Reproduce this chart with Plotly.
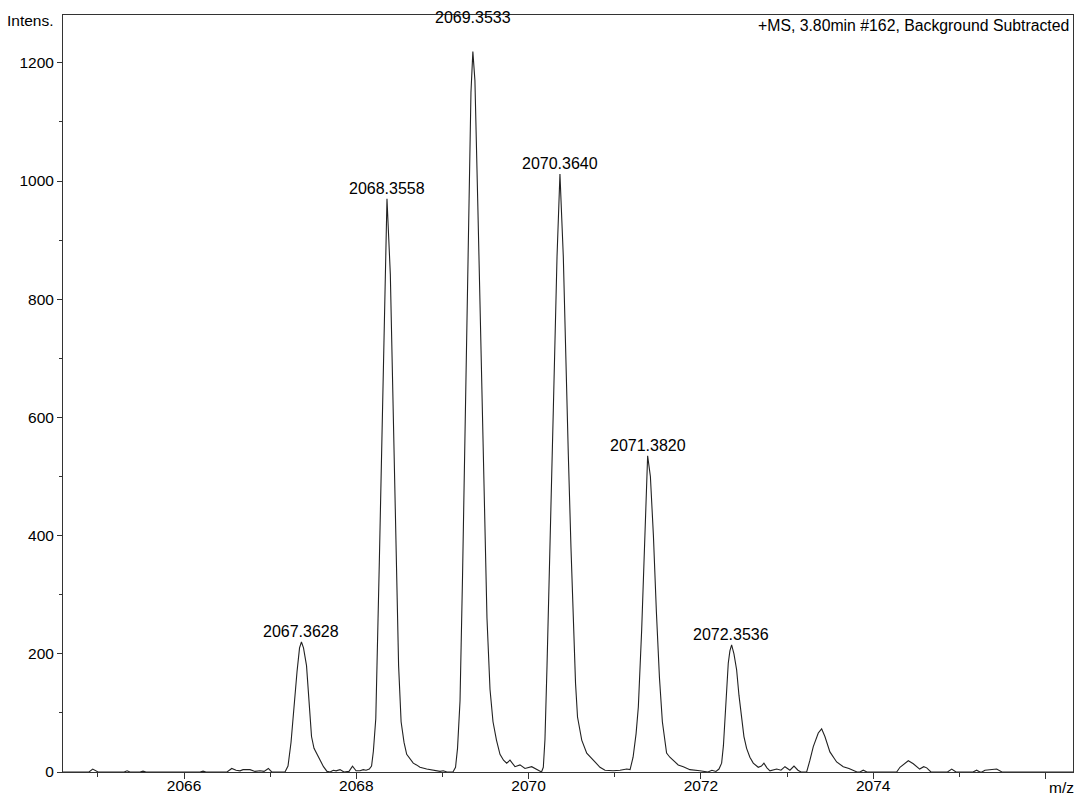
import plotly.graph_objects as go

# Spectrum trace (m/z, intensity)
mz = [2064.595, 2064.897, 2064.940, 2064.978, 2065.002, 2065.304, 2065.339, 2065.373,
      2065.489, 2065.524, 2065.559, 2066.186, 2066.221, 2066.255, 2066.499, 2066.554,
      2066.604, 2066.650, 2066.685, 2066.766, 2066.824, 2066.882, 2066.929, 2066.979,
      2067.018, 2067.172, 2067.207, 2067.242, 2067.277, 2067.312, 2067.341, 2067.363,
      2067.387, 2067.422, 2067.451, 2067.480, 2067.509, 2067.544, 2067.579, 2067.619,
      2067.660, 2067.695, 2067.733, 2067.765, 2067.811, 2067.857, 2067.915, 2067.956,
      2067.997, 2068.043, 2068.081, 2068.113, 2068.151, 2068.177, 2068.198, 2068.226,
      2068.267, 2068.307, 2068.342, 2068.356, 2068.395, 2068.425, 2068.465, 2068.491,
      2068.520, 2068.554, 2068.585, 2068.623, 2068.661, 2068.699, 2068.739, 2068.817,
      2068.894, 2068.972, 2069.010, 2069.053, 2069.122, 2069.152, 2069.175, 2069.204,
      2069.233, 2069.267, 2069.302, 2069.331, 2069.353, 2069.377, 2069.412, 2069.447,
      2069.482, 2069.517, 2069.552, 2069.587, 2069.627, 2069.668, 2069.709, 2069.746,
      2069.784, 2069.842, 2069.900, 2069.958, 2070.036, 2070.094, 2070.150, 2070.171,
      2070.190, 2070.214, 2070.248, 2070.287, 2070.330, 2070.364, 2070.403, 2070.434,
      2070.461, 2070.492, 2070.519, 2070.545, 2070.568, 2070.617, 2070.675, 2070.752,
      2070.829, 2070.887, 2070.980, 2071.062, 2071.139, 2071.178, 2071.213, 2071.248,
      2071.274, 2071.313, 2071.352, 2071.382, 2071.414, 2071.449, 2071.484, 2071.519,
      2071.553, 2071.582, 2071.602, 2071.640, 2071.679, 2071.737, 2071.796, 2071.873,
      2071.989, 2072.082, 2072.128, 2072.175, 2072.210, 2072.241, 2072.262, 2072.279,
      2072.302, 2072.318, 2072.337, 2072.357, 2072.384, 2072.415, 2072.442, 2072.473,
      2072.500, 2072.531, 2072.569, 2072.608, 2072.666, 2072.703, 2072.732, 2072.767,
      2072.802, 2072.880, 2072.930, 2072.976, 2073.034, 2073.081, 2073.127, 2073.162,
      2073.228, 2073.266, 2073.305, 2073.363, 2073.402, 2073.440, 2073.498, 2073.576,
      2073.653, 2073.719, 2073.769, 2073.812, 2073.846, 2073.885, 2073.928, 2074.273,
      2074.311, 2074.357, 2074.408, 2074.466, 2074.509, 2074.540, 2074.587, 2074.622,
      2074.671, 2074.863, 2074.912, 2074.962, 2075.159, 2075.201, 2075.240, 2075.263,
      2075.298, 2075.356, 2075.434, 2075.495, 2076.320]

intensity = [0, 0, 5, 2, 0, 0, 2, 0,
             0, 1.5, 0, 0, 1.5, 0, 0, 6,
             3, 2, 4, 4, 1, 2, 1, 6,
             0, 0, 10, 50, 115, 170, 210, 220,
             210, 180, 120, 60, 40, 30, 20, 9,
             1, 0, 3, 2, 4, 0, 1, 10,
             2, 2, 4, 3, 5, 10, 35, 90,
             354, 620, 842, 970, 842, 620, 354, 180,
             85, 50, 30, 22, 15, 12, 8, 5,
             3, 1, 2, 0, 0, 8, 40, 120,
             330, 640, 920, 1150, 1219, 1170, 950, 700,
             450, 260, 140, 85, 54, 30, 20, 15,
             20, 9, 12, 6, 9, 4, 0, 8,
             55, 180, 400, 612, 872, 1012, 872, 680,
             538, 380, 241, 150, 93, 54, 32, 20,
             8, 3, 2, 3, 5, 4, 25, 65,
             110, 241, 420, 535, 500, 400, 270, 160,
             85, 54, 32, 25, 20, 12, 9, 4,
             2, 0, 3, 1, 5, 15, 45, 88,
             150, 184, 205, 215, 200, 173, 130, 94,
             60, 40, 25, 15, 8, 10, 15, 7,
             2, 5, 3, 9, 3, 10, 3, 0,
             0, 20, 43, 66, 73, 60, 34, 17,
             9, 6, 3, 0, 0, 3, 0, 0,
             8, 14, 19, 14, 8, 5, 9, 7,
             0, 0, 5, 0, 0, 3, 0, 0,
             3, 4, 5, 0, 0]

# Labelled peaks
peak_mz = [2067.3628, 2068.3558, 2069.3533, 2070.3640, 2071.3820, 2072.3536]
peak_int = [220, 970, 1219, 1012, 535, 215]

x_ticks = [2066, 2068, 2070, 2072, 2074, 2076]
x_ticktext = ["2066", "2068", "2070", "2072", "2074", ""]
y_ticks = [0, 200, 400, 600, 800, 1000, 1200]

FONT = "Liberation Sans, Arial, sans-serif"
LABEL_SHIFT = [0, 0, 24, 0, 0, 0]   # pixel lift of each peak label (style)

fig = go.Figure()
fig.add_trace(go.Scatter(x=mz, y=intensity, mode="lines",
                         line=dict(color="#222222", width=1.1),
                         hoverinfo="skip", showlegend=False))

for m, h, s in zip(peak_mz, peak_int, LABEL_SHIFT):
    fig.add_annotation(x=m, y=h, text=f"{m:.4f}", showarrow=False,
                       xanchor="center", yanchor="bottom", yshift=s,
                       font=dict(family=FONT, size=16, color="black"))

fig.add_annotation(xref="paper", yref="paper", x=0, y=1, text="Intens.",
                   showarrow=False, xanchor="right", yanchor="middle",
                   xshift=-7, yshift=-5, font=dict(family=FONT, size=15.5, color="black"))
fig.add_annotation(xref="paper", yref="paper", x=1, y=1,
                   text="+MS, 3.80min #162, Background Subtracted",
                   showarrow=False, xanchor="right", yanchor="middle",
                   xshift=-2, yshift=-10, font=dict(family=FONT, size=15.8, color="black"))
fig.add_annotation(xref="paper", yref="paper", x=1, y=0, text="m/z",
                   showarrow=False, xanchor="right", yanchor="top",
                   xshift=3, yshift=-5, font=dict(family=FONT, size=15.5, color="black"))

fig.update_layout(
    width=1078, height=797,
    margin=dict(l=63, r=5, t=15, b=25, autoexpand=False),
    paper_bgcolor="white", plot_bgcolor="white",
    font=dict(family=FONT, size=15.5, color="black"),
    showlegend=False,
    xaxis=dict(range=[2064.595, 2076.32], tickmode="array", tickvals=x_ticks,
               ticktext=x_ticktext, ticks="outside", ticklen=6, tickwidth=1,
               tickcolor="#333", showline=True, linecolor="#333", linewidth=1,
               mirror=True, showgrid=False, zeroline=False, automargin=False,
               ticklabelstandoff=-7,
               minor=dict(dtick=1, tick0=2065, ticks="outside", ticklen=4,
                          tickcolor="#333", showgrid=False)),
    yaxis=dict(range=[0, 1281], tickmode="array", tickvals=y_ticks,
               ticks="outside", ticklen=5, tickwidth=1, tickcolor="#333",
               showline=True, linecolor="#333", linewidth=1, mirror=True,
               showgrid=False, zeroline=False, automargin=False,
               minor=dict(dtick=100, tick0=0, ticks="outside", ticklen=3,
                          tickcolor="#333", showgrid=False)),
)

fig.write_html("out.html")
